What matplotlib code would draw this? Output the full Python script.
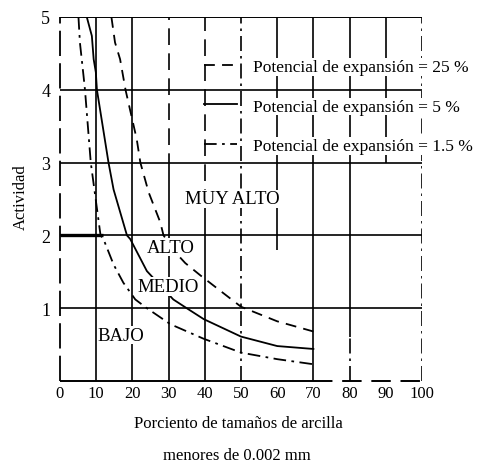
import matplotlib
matplotlib.use("Agg")
import matplotlib.pyplot as plt

plt.rcParams['font.family'] = ['Liberation Serif', 'DejaVu Serif']

# Curves of constant swelling potential (activity vs. clay fraction)
pe25_x = [14.2, 15.2, 16.6, 18.1, 21.2, 22.2, 24.5, 27.7, 28.6, 32.0, 34.6, 38.8, 44.0, 50.0, 60.0, 70.0]
pe25_y = [5.0, 4.65, 4.42, 4.0, 3.32, 3.0, 2.59, 2.18, 2.0, 1.76, 1.62, 1.45, 1.25, 1.02, 0.82, 0.68]

pe5_x = [7.4, 8.8, 9.3, 9.9, 10.2, 13.4, 14.8, 18.5, 19.4, 24.0, 31.3, 35.0, 39.7, 50.0, 60.0, 70.0]
pe5_y = [5.0, 4.74, 4.42, 4.24, 4.0, 3.0, 2.63, 2.0, 1.95, 1.51, 1.12, 1.0, 0.85, 0.61, 0.48, 0.44]

pe15_x = [5.1, 5.5, 6.5, 6.9, 8.5, 11.2, 12.0, 14.8, 17.5, 20.8, 24.0, 30.5, 39.7, 50.0, 60.0, 70.0]
pe15_y = [5.0, 4.65, 4.19, 4.0, 3.0, 2.0, 1.95, 1.6, 1.35, 1.12, 1.0, 0.78, 0.58, 0.39, 0.30, 0.23]

series_labels = ["Potencial de expansión = 25 %",
                 "Potencial de expansión = 5 %",
                 "Potencial de expansión = 1.5 %"]

x_ticks = [0, 10, 20, 30, 40, 50, 60, 70, 80, 90, 100]
y_ticks = [1, 2, 3, 4, 5]

zone_names = ["MUY ALTO", "ALTO", "MEDIO", "BAJO"]
zone_x = [47.6, 30.7, 29.9, 16.9]
zone_y = [2.50, 1.84, 1.30, 0.63]

xlabel_lines = ["Porciento de tamaños de arcilla", "menores de 0.002 mm"]
ylabel = "Actividad"

W, H = 478, 464
fig = plt.figure(figsize=(W / 100, H / 100), dpi=100)
ax = fig.add_axes([60 / W, 1 - 382 / H, 362 / W, 364 / H])
ax.set_xlim(0, 100)
ax.set_ylim(0, 5)

k = "black"
lw_grid = 1.2
dashdot = (0, (9, 3, 1.5, 3))
longdash = (0, (10, 5))

# vertical grid
ax.vlines(10, 0, 5, color=k, lw=lw_grid)
ax.vlines(20, 0, 5, color=k, lw=lw_grid)
ax.vlines(30, 0, 2.9, color=k, lw=lw_grid)
ax.vlines(30, 2.9, 5, color=k, lw=lw_grid, linestyles=[longdash])
ax.vlines(40, 0, 2.4, color=k, lw=lw_grid)
ax.vlines(40, 2.4, 5, color=k, lw=lw_grid, linestyles=[longdash])
ax.vlines(50, 0, 5, color=k, lw=lw_grid, linestyles=[dashdot])
ax.vlines(60, 1.8, 5, color=k, lw=lw_grid)
ax.vlines(70, 0, 5, color=k, lw=lw_grid)
ax.vlines(80, 0.6, 5, color=k, lw=lw_grid)
ax.vlines(80, 0, 0.6, color=k, lw=lw_grid, linestyles=[dashdot])
ax.vlines(90, 3.0, 5, color=k, lw=lw_grid)
ax.vlines(100, 0, 5, color=k, lw=lw_grid, linestyles=[dashdot])

# horizontal grid
for yv in [1, 2, 3, 4]:
    ax.hlines(yv, 0, 100, color=k, lw=lw_grid)
ax.hlines(2, 0, 12, color=k, lw=2.4)

# axis frame
for s in ax.spines.values():
    s.set_visible(False)
ax.hlines(5, 0, 100, color=k, lw=1.4)
ax.hlines(0, 0, 70, color=k, lw=1.4, clip_on=False)
ax.hlines(0, 70, 100, color=k, lw=1.4, linestyles=[longdash], clip_on=False)
ax.vlines(0, 0, 5, color=k, lw=1.3, linestyles=[(0, (14, 4))], clip_on=False)

# curves
l1, = ax.plot(pe25_x, pe25_y, color=k, lw=1.3, ls=(0, (6, 4)), label=series_labels[0])
l2, = ax.plot(pe5_x, pe5_y, color=k, lw=1.3, ls="-", label=series_labels[1])
l3, = ax.plot(pe15_x, pe15_y, color=k, lw=1.3, ls=(0, (7, 3, 1.5, 3)), label=series_labels[2])

# zone names
for name, zx, zy in zip(zone_names, zone_x, zone_y):
    ax.text(zx, zy, name, ha="center", va="center", fontsize=13.5,
            bbox=dict(facecolor="white", edgecolor="none", pad=0.5), zorder=5)

ax.set_xticks(x_ticks)
ax.set_xticklabels([str(v) for v in x_ticks], fontsize=12)
ax.set_yticks(y_ticks)
ax.set_yticklabels([str(v) for v in y_ticks], fontsize=13)
ax.tick_params(axis="both", length=0)
ax.tick_params(axis="x", pad=3)
ax.tick_params(axis="y", pad=7)

leg = ax.legend(handles=[l1, l2, l3], loc="upper left",
                bbox_to_anchor=(204 / W, 1 - 60 / H), bbox_transform=fig.transFigure,
                frameon=False, fontsize=12.5, handlelength=1.9, handletextpad=0.9,
                labelspacing=1.34, borderpad=0, borderaxespad=0)
for t in leg.get_texts():
    t.set_bbox(dict(facecolor="white", edgecolor="none", pad=0.5))

fig.text(238 / W, 1 - 424 / H, xlabel_lines[0], ha="center", va="center", fontsize=12)
fig.text(237 / W, 1 - 456 / H, xlabel_lines[1], ha="center", va="center", fontsize=12)
fig.text(21 / W, 1 - 197 / H, ylabel, ha="center", va="center", rotation=90, fontsize=12)

fig.savefig("out.png", dpi=100)
